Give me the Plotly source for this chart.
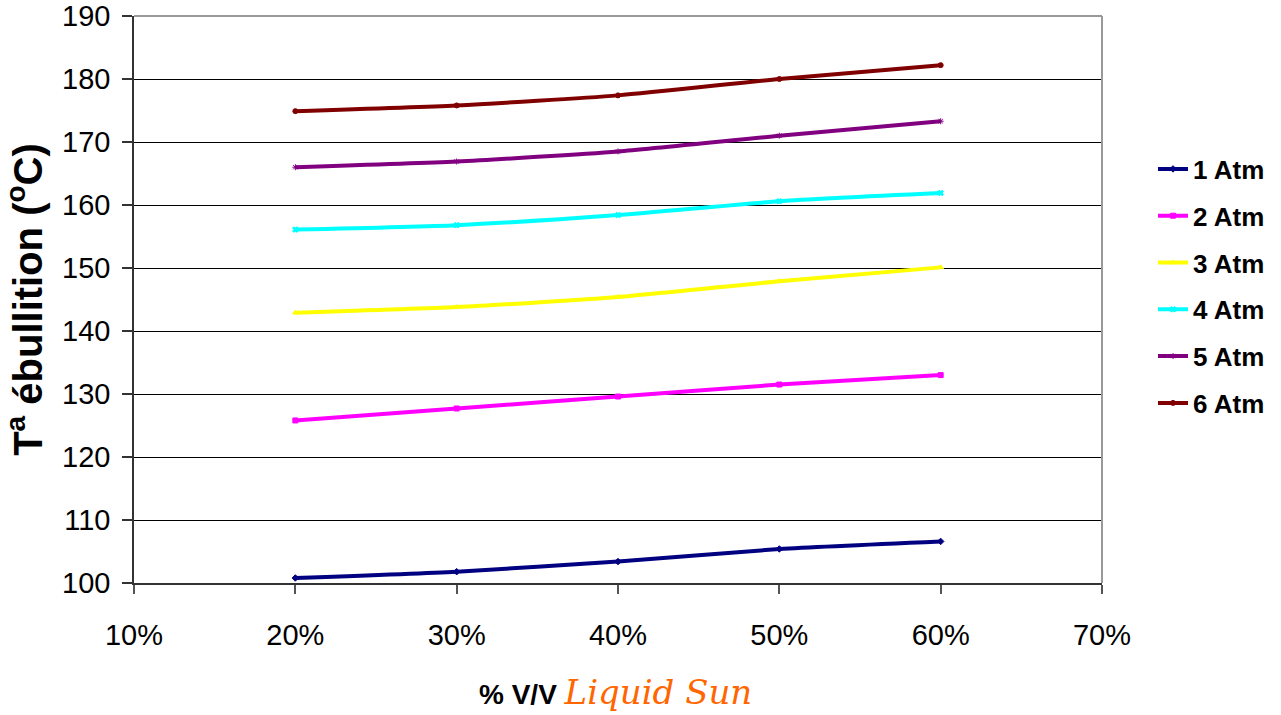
import plotly.graph_objects as go

x_vals = [0.2, 0.3, 0.4, 0.5, 0.6]
atm1 = [100.8, 101.8, 103.4, 105.4, 106.6]
atm2 = [125.8, 127.7, 129.6, 131.5, 133.0]
atm3 = [142.9, 143.8, 145.4, 147.9, 150.1]
atm4 = [156.1, 156.8, 158.4, 160.6, 161.9]
atm5 = [166.0, 166.9, 168.5, 171.0, 173.3]
atm6 = [174.9, 175.8, 177.4, 180.0, 182.2]

series_names = ["1 Atm", "2 Atm", "3 Atm", "4 Atm", "5 Atm", "6 Atm"]
series_vals = [atm1, atm2, atm3, atm4, atm5, atm6]
colors = ["#000080", "#FF00FF", "#FFFF00", "#00FFFF", "#800080", "#800000"]
symbols = ["diamond", "square", "triangle-up", "x", "asterisk", "circle"]

W, H = 1281, 715
L, R, T, B = 134, 1102, 16, 583

fig = go.Figure()
for name, vals, c, s in zip(series_names, series_vals, colors, symbols):
    fig.add_trace(go.Scatter(
        x=x_vals, y=vals, name=name, mode="lines+markers",
        line=dict(color=c, width=4, shape="spline", smoothing=0.6),
        marker=dict(symbol=s, size=5, color=c, line=dict(color=c, width=1)),
        legendgroup=name,
    ))

fig.update_layout(
    width=W, height=H,
    margin=dict(l=L, r=W - R, t=T, b=H - B, autoexpand=False),
    paper_bgcolor="white", plot_bgcolor="white",
    font=dict(family="Liberation Sans, Arial, sans-serif", color="black"),
    showlegend=True,
    legend=dict(
        x=(1153 - L) / (R - L), xanchor="left",
        y=(B - 286) / (B - T), yanchor="middle",
        font=dict(size=26, family="Liberation Sans, Arial, sans-serif", color="black", weight="bold"),
        tracegroupgap=10, bgcolor="rgba(0,0,0,0)",
    ),
    xaxis=dict(
        range=[0.1, 0.7], dtick=0.1, tick0=0.1, tickformat=".0%",
        showgrid=False, zeroline=False, automargin=False,
        showline=True, linecolor="#333333", linewidth=1.5,
        ticks="outside", ticklen=9, tickcolor="#555555", tickwidth=1.5,
        tickfont=dict(size=29), ticklabelstandoff=16, ticklabeloverflow="allow",
    ),
    yaxis=dict(
        range=[100, 190], dtick=10,
        showgrid=True, gridcolor="black", gridwidth=1, zeroline=False, automargin=False,
        showline=True, linecolor="#333333", linewidth=1.5,
        ticks="outside", ticklen=10, tickcolor="#333333", tickwidth=1.5,
        tickfont=dict(size=29), ticklabelstandoff=6, ticklabeloverflow="allow",
        title=dict(text="<b>T<sup>a</sup> ébullition (<sup>o</sup>C)</b>",
                   font=dict(size=40), standoff=10),
    ),
)

# gray top/right border
fig.add_shape(type="line", xref="paper", yref="paper", x0=0, x1=1, y0=1, y1=1,
              line=dict(color="#999999", width=2), layer="above")
fig.add_shape(type="line", xref="paper", yref="paper", x0=1, x1=1, y0=0, y1=1,
              line=dict(color="#999999", width=2), layer="above")

fig.add_annotation(
    xref="paper", yref="paper",
    x=(615 - L) / (R - L), y=(B - 692) / (B - T),
    xanchor="center", yanchor="middle", showarrow=False,
    text="<b>% V/V</b> <span style='font-family:\"DejaVu Serif\", serif; font-style:italic; fill:#FF6600; font-size:34px'>Liquid Sun</span>",
    font=dict(size=28, color="black"),
)

fig.write_html("out.html", config={"displayModeBar": False},
               post_script="document.body.style.margin='0';")
